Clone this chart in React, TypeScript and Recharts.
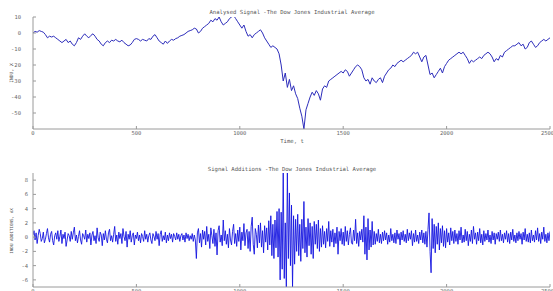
import React from 'react';
import { LineChart, Line, XAxis, YAxis } from 'recharts';

// ---- data ----
const timeTicks = [0, 500, 1000, 1500, 2000, 2500];
const indexTicks = [10, 0, -10, -20, -30, -40, -50];
const additionTicks = [8, 6, 4, 2, 0, -2, -4, -6];
const indexStep = 10; // t units between samples of the analysed signal
const additionStep = 5; // t units between samples of the additions

const indexValues = [
  0, 1, 0.5, 1.5, 1, 0.5, -1, -3, -2, -2.5,
  -2, -3, -4, -5, -6, -5, -4, -6, -5, -7,
  -8, -6, -3, -4, -2, -0.5, -2, -3, -1.5, -0.5,
  -2, -4, -5, -7, -8, -6, -5, -6, -4.5, -5,
  -4, -5, -5.5, -4.5, -6, -7, -8, -7.5, -6, -4,
  -3.5, -4, -5, -4, -4.5, -5, -3.5, -4, -2, -1,
  -3, -5, -6, -7, -5, -6.5, -5, -4, -4.5, -3.5,
  -3, -2, -1.5, -1, 0, 1, 1.5, 2, 3, 2.5,
  0, 1, 3, 4, 5, 6, 8, 7, 9, 8,
  10, 7, 5, 6, 7, 9, 10, 11, 9, 7,
  5, 3, 5, 1, -2, -1, -3, -1, 0, 1,
  2, 0, -3, -5, -7, -9, -8, -9, -10, -13,
  -20, -30, -25, -34, -29, -36, -33, -38, -41, -47,
  -52, -60, -48, -44, -40, -37, -39, -36, -38, -42,
  -35, -33, -34, -30, -29, -28, -27, -26, -25, -24,
  -25, -23, -24, -27, -25, -23, -21, -20, -21, -23,
  -28, -30, -29, -32, -28, -30, -31, -29, -28, -31,
  -27, -25, -23, -22, -20, -21, -19, -18, -17, -18,
  -17, -16, -15, -14, -12, -13, -12, -15, -18, -15,
  -14, -20, -26, -25, -28, -26, -24, -22, -25, -21,
  -19, -17, -16, -15, -14, -13, -12, -13, -12, -14,
  -16, -19, -17, -18, -17, -16, -15, -16, -14, -13,
  -12, -13, -15, -18, -16, -17, -14, -15, -12, -11,
  -10, -9, -8, -8, -7, -6, -8, -7, -10, -9,
  -6, -5, -7, -9, -8, -6, -5, -4, -5, -4,
  -3,
];

const additionValues = [
  0.3, 0.9, -0.4, 0.6, -0.9, 0.2, 1.1, 0.5, -0.6, -0.2,
  0.7, -0.8, -0.3, 0.5, 1.2, -0.1, -0.7, 0.4, 0.8, -0.5,
  -1.1, 0.2, 0.6, -0.3, 0.9, -0.6, 0.1, 1.0, -0.9, 0.4,
  -0.2, 0.7, -1.3, -0.4, 0.5, 0.2, -0.6, 0.8, -0.3, 0.6,
  1.4, -0.5, 0.3, -0.8, 0.1, 0.9, -0.4, -1.0, 0.5, 0.2,
  -0.3, 1.0, -0.7, 0.4, -0.2, 0.6, -1.1, 0.3, 0.8, -0.5,
  0.2, -0.9, 1.3, -0.1, -0.6, 0.7, 0.3, -1.2, 0.5, -0.4,
  0.9, -0.3, -0.8, 0.6, 1.1, -0.5, 0.2, -0.7, 0.4, 1.5,
  -0.6, 0.3, -1.0, 0.7, -0.2, 0.5, -0.9, 1.2, 0.1, -0.5,
  0.8, -1.4, 0.4, -0.3, 0.9, -0.7, 0.2, 0.6, -1.1, 0.3,
  -0.2, 0.7, -0.5, 0.3, -0.8, 0.5, 0.1, -0.6, 0.9, -0.3,
  0.4, -0.7, 0.2, 0.6, -0.4, -0.9, 0.5, 0.1, -0.5, 0.8,
  -0.3, 0.5, -1.2, 0.4, 0.9, -0.6, 0.2, -0.4, 0.7, -0.8,
  0.3, -0.5, 0.6, -0.2, 0.4, -0.7, 0.5, 0.1, -0.4, 0.6,
  -0.3, 0.4, -0.6, 0.2, 0.5, -0.4, 0.3, -0.7, 0.6, -0.2,
  0.4, -0.5, 0.2, -0.3, 0.5, -0.6, 0.3, -0.4, -3.0, 0.6,
  1.2, -0.8, 0.5, -1.4, 1.0, -0.3, 0.8, -1.1, 1.5, -0.6,
  0.4, -1.6, 1.3, 0.2, -0.9, 1.1, -1.3, 0.6, -2.5, 0.9,
  1.6, -0.7, 0.3, -1.2, 2.4, -0.5, 0.9, -1.0, 0.4, -1.5,
  1.2, -0.4, -1.1, 0.8, 1.8, -0.9, 0.5, -1.3, 1.0, -0.6,
  1.4, -1.8, 0.7, -0.5, 1.9, -1.2, 0.6, 1.1, -1.6, 0.8,
  -2.0, 1.5, 2.8, -1.0, -2.4, 1.2, 0.4, -1.5, 1.7, -0.8,
  2.0, -1.4, 0.9, -2.2, 1.6, -0.7, 1.3, -1.8, 2.3, -1.1,
  3.0, -2.6, 1.8, -3.0, 2.4, -1.5, 3.6, -2.8, 4.0, -6.0,
  3.5, -4.5, 9.0, -5.8, 2.0, -7.0, 9.0, -3.0, 6.2, -4.0,
  4.5, -7.0, 3.0, -3.8, 2.5, -2.0, 3.2, -2.6, 1.8, -3.4,
  2.5, -1.6, 5.0, -2.2, 1.4, -2.8, 2.6, -1.2, 2.0, -2.4,
  1.5, -3.0, 2.2, -1.0, 1.8, -1.6, 2.4, -2.0, 1.2, -1.4,
  1.6, -1.0, 0.8, -1.5, 1.2, -0.6, 2.2, -1.3, 0.9, -0.7,
  1.1, -1.4, 0.6, -0.9, 1.4, -2.4, 0.8, -0.5, 1.2, -1.0,
  0.7, -1.2, 1.5, -0.6, 0.9, -1.1, 0.4, 1.3, -0.8, -1.0,
  1.0, -0.5, 2.5, -0.9, 0.6, -1.3, 0.8, -0.4, 1.1, -0.7,
  3.0, -2.4, 1.4, -3.2, 2.6, -1.8, 1.0, -1.4, 2.2, -1.1,
  0.8, -1.0, 0.5, -0.6, 1.1, -0.8, 0.4, -0.9, 0.7, -0.5,
  0.9, -0.4, 0.6, -1.0, 0.3, -0.7, 1.2, -0.5, 0.4, -0.8,
  0.6, -0.9, 1.0, -0.3, 0.5, -1.1, 0.7, -0.4, 0.9, -0.6,
  0.4, -0.8, 1.1, -0.5, 0.6, -0.3, 0.9, -1.2, 0.5, -0.7,
  1.0, -0.6, 0.3, -0.9, 0.7, -0.4, 1.0, -0.8, 0.6, -1.0,
  0.8, -1.4, 1.1, 3.4, -2.0, -5.0, 2.6, -1.6, 1.8, -2.2,
  1.5, -1.0, 2.0, -1.8, 1.2, -0.8, 1.6, -1.3, 0.9, -1.5,
  1.2, -0.7, 0.6, -1.1, 1.3, -0.5, 0.8, -0.9, 1.0, -0.6,
  0.5, -1.0, 0.9, -0.4, 1.4, -0.8, 0.3, -0.7, 1.1, -0.5,
  0.8, -1.2, 0.4, -0.6, 1.0, -0.9, 1.5, -0.3, 0.6, -1.0,
  0.7, -0.5, 1.2, -0.8, 0.4, -1.1, 0.9, -0.6, 0.5, -0.4,
  1.0, -0.7, 0.3, -0.9, 0.8, -0.4, 0.6, -1.0, 0.5, -0.3,
  0.7, -0.6, 1.0, -0.5, 0.4, -0.8, 0.6, -0.3, 0.9, -0.7,
  0.5, -0.9, 0.7, -0.4, 1.1, -0.6, 0.3, -0.8, 0.6, -0.5,
  0.8, -0.3, 0.5, -1.0, 0.7, -0.4, 1.2, -0.6, 0.4, -0.7,
  0.6, -0.8, 1.0, -0.5, 0.3, -0.7, 0.9, -0.4, 1.3, -0.6,
  0.5, -0.9, 0.7, -0.3, 1.4, -0.6, 0.4, -0.8, 0.6, -0.5,
  0.8,
];

const topTitle = 'Analysed Signal -The Dow Jones Industrial Average';
const bottomTitle = 'Signal Additions -The Dow Jones Industrial Average';
const xLabel = 'Time, t';
const topYLabel = 'INDU, X';
const bottomYLabel = 'INDU ADDITIONS, dX';

const indexData = indexValues.map((v, i) => ({ t: i * indexStep, v }));
const additionData = additionValues.map((v, i) => ({ t: i * additionStep, v }));

// ---- styles ----
const MONO = 'DejaVu Sans Mono, Liberation Mono, monospace';
const tickStyle = { fontFamily: MONO, fontSize: 5.5, fill: '#6a6a6a' };
const axisColor = '#9a9a9a';
const blank = () => '';

export default function App() {
  return (
    <div style={{ position: 'absolute', left: 0, top: 0, width: 553, height: 291, background: '#fff', overflow: 'hidden' }}>
      {/* top panel */}
      <div style={{ position: 'absolute', left: 0, top: 0 }}>
        <LineChart width={553} height={145} data={indexData} margin={{ top: 17, right: 3, bottom: 0, left: 8 }}>
          <XAxis
            xAxisId="b" dataKey="t" type="number" domain={[0, 2500]} ticks={timeTicks}
            orientation="bottom" height={16} tickSize={-3} tickMargin={5}
            tick={tickStyle} stroke={axisColor} allowDataOverflow
          />
          <XAxis
            xAxisId="t" dataKey="t" type="number" domain={[0, 2500]} ticks={timeTicks}
            orientation="top" height={0} tickSize={-3} tickFormatter={blank}
            stroke={axisColor} allowDataOverflow
          />
          <YAxis
            yAxisId="l" type="number" domain={[-60, 10]} ticks={indexTicks}
            width={25} tickSize={-3} tickMargin={15} tick={tickStyle}
            stroke={axisColor} allowDataOverflow
          />
          <YAxis
            yAxisId="r" orientation="right" type="number" domain={[-60, 10]} ticks={indexTicks}
            width={0} tickSize={-3} tickFormatter={blank} stroke={axisColor} allowDataOverflow
          />
          <Line
            xAxisId="b" yAxisId="l" dataKey="v" type="linear" stroke="#2d2dbb"
            strokeWidth={1} dot={false} isAnimationActive={false}
          />
        </LineChart>
      </div>

      {/* bottom panel */}
      <div style={{ position: 'absolute', left: 0, top: 156 }}>
        <LineChart width={553} height={135} data={additionData} margin={{ top: 17, right: 3, bottom: 0, left: 8 }}>
          <XAxis
            xAxisId="b" dataKey="t" type="number" domain={[0, 2500]} ticks={timeTicks}
            orientation="bottom" height={4} tickSize={-3} tickMargin={5}
            tick={tickStyle} stroke={axisColor} allowDataOverflow
          />
          <XAxis
            xAxisId="t" dataKey="t" type="number" domain={[0, 2500]} ticks={timeTicks}
            orientation="top" height={0} tickSize={-3} tickFormatter={blank}
            stroke={axisColor} allowDataOverflow
          />
          <YAxis
            yAxisId="l" type="number" domain={[-7, 9]} ticks={additionTicks}
            width={25} tickSize={-3} tickMargin={8} tick={tickStyle}
            stroke={axisColor} allowDataOverflow
          />
          <YAxis
            yAxisId="r" orientation="right" type="number" domain={[-7, 9]} ticks={additionTicks}
            width={0} tickSize={-3} tickFormatter={blank} stroke={axisColor} allowDataOverflow
          />
          <Line
            xAxisId="b" yAxisId="l" dataKey="v" type="linear" stroke="#1414e0"
            strokeWidth={0.9} dot={false} isAnimationActive={false}
          />
        </LineChart>
      </div>

      {/* titles & axis labels */}
      <svg width={553} height={291} style={{ position: 'absolute', left: 0, top: 0, pointerEvents: 'none' }}>
        <g fontFamily={MONO} fill="#555">
          <text x={292} y={14} fontSize={5.6} textAnchor="middle">{topTitle}</text>
          <text x={292} y={143} fontSize={5.6} textAnchor="middle">{xLabel}</text>
          <text x={0} y={0} fontSize={4.6} textAnchor="middle" transform="translate(13 73) rotate(-90)">{topYLabel}</text>
          <text x={292} y={171} fontSize={5.6} textAnchor="middle">{bottomTitle}</text>
          <text x={0} y={0} fontSize={4.2} textAnchor="middle" transform="translate(13 231) rotate(-90)">{bottomYLabel}</text>
        </g>
      </svg>
    </div>
  );
}
